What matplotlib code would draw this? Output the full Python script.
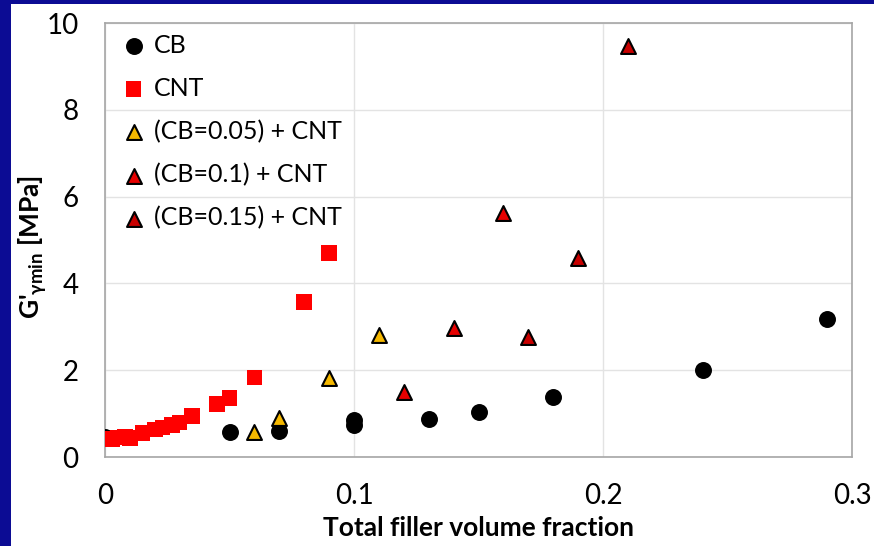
import matplotlib
matplotlib.use("Agg")
import matplotlib.pyplot as plt
from matplotlib.patches import Rectangle

plt.rcParams['font.family'] = ['Lato', 'DejaVu Sans']
plt.rcParams['mathtext.fontset'] = 'custom'
plt.rcParams['mathtext.rm'] = 'Lato'
plt.rcParams['mathtext.bf'] = 'Lato:bold'

# data
cb_x = [0.0, 0.05, 0.07, 0.10, 0.10, 0.13, 0.15, 0.18, 0.24, 0.29]
cb_y = [0.45, 0.58, 0.60, 0.85, 0.74, 0.87, 1.04, 1.38, 2.00, 3.18]

cnt_x = [0.0, 0.003, 0.005, 0.008, 0.010, 0.015, 0.020, 0.023, 0.027, 0.030,
         0.035, 0.045, 0.050, 0.060, 0.080, 0.090]
cnt_y = [0.40, 0.42, 0.45, 0.47, 0.44, 0.55, 0.63, 0.68, 0.74, 0.80,
         0.94, 1.22, 1.36, 1.83, 3.57, 4.70]

cb005_x = [0.06, 0.07, 0.09, 0.11]
cb005_y = [0.58, 0.90, 1.82, 2.81]

cb01_x = [0.12, 0.14, 0.16]
cb01_y = [1.50, 2.97, 5.62]

cb015_x = [0.17, 0.19, 0.21]
cb015_y = [2.77, 4.58, 9.47]

fig = plt.figure(figsize=(8.74, 5.46), dpi=100, facecolor='white')

# slide frame (blue band top and left)
fig.patches.append(Rectangle((0, 0), 11 / 874, 1, transform=fig.transFigure,
                             facecolor='#0c0c94', edgecolor='none', zorder=0))
fig.patches.append(Rectangle((0, 1 - 4 / 546), 1, 4 / 546, transform=fig.transFigure,
                             facecolor='#0c0c94', edgecolor='none', zorder=0))

ax = fig.add_axes([105 / 874, 89 / 546, 747 / 874, 434 / 546])
ax.set_facecolor('white')

ax.scatter(cb_x, cb_y, s=125, marker='o', color='black', zorder=3, label='CB')
ax.scatter(cnt_x, cnt_y, s=125, marker='s', color='#ff0000', edgecolor='none',
           zorder=4, label='CNT')
ax.scatter(cb005_x, cb005_y, s=115, marker='^', color='#f5b800', edgecolor='black',
           linewidth=1.5, zorder=5, label='(CB=0.05) + CNT')
ax.scatter(cb01_x, cb01_y, s=115, marker='^', color='#e60000', edgecolor='black',
           linewidth=1.5, zorder=5, label='(CB=0.1) + CNT')
ax.scatter(cb015_x, cb015_y, s=115, marker='^', color='#c80000', edgecolor='black',
           linewidth=1.5, zorder=5, label='(CB=0.15) + CNT')

ax.set_xlim(0, 0.3)
ax.set_ylim(0, 10)
ax.set_xticks([0, 0.1, 0.2, 0.3])
ax.set_xticklabels(['0', '0.1', '0.2', '0.3'])
ax.set_yticks([0, 2, 4, 6, 8, 10])
ax.tick_params(length=0, labelsize=20, pad=19, colors='black')
ax.grid(True, color='#e3e3e3', linewidth=1)
ax.set_axisbelow(True)
for sp in ax.spines.values():
    sp.set_color('#a6a6a6')
    sp.set_linewidth(1.2)

ax.set_xlabel('Total filler volume fraction', fontsize=19, fontweight='bold', labelpad=5)
fig.text(33 / 874, 1 - 247 / 546, r"G'$_{\mathregular{\gamma min}}$ [MPa]",
         rotation=90, fontsize=19, fontweight='bold', ha='center', va='center')

leg = ax.legend(loc='upper left', frameon=False, fontsize=18, labelspacing=0.8,
                handlelength=0.8, handletextpad=0.4, borderaxespad=0.2,
                bbox_to_anchor=(0.005, 1.01))

fig.savefig('out.png', dpi=100, facecolor='white')
